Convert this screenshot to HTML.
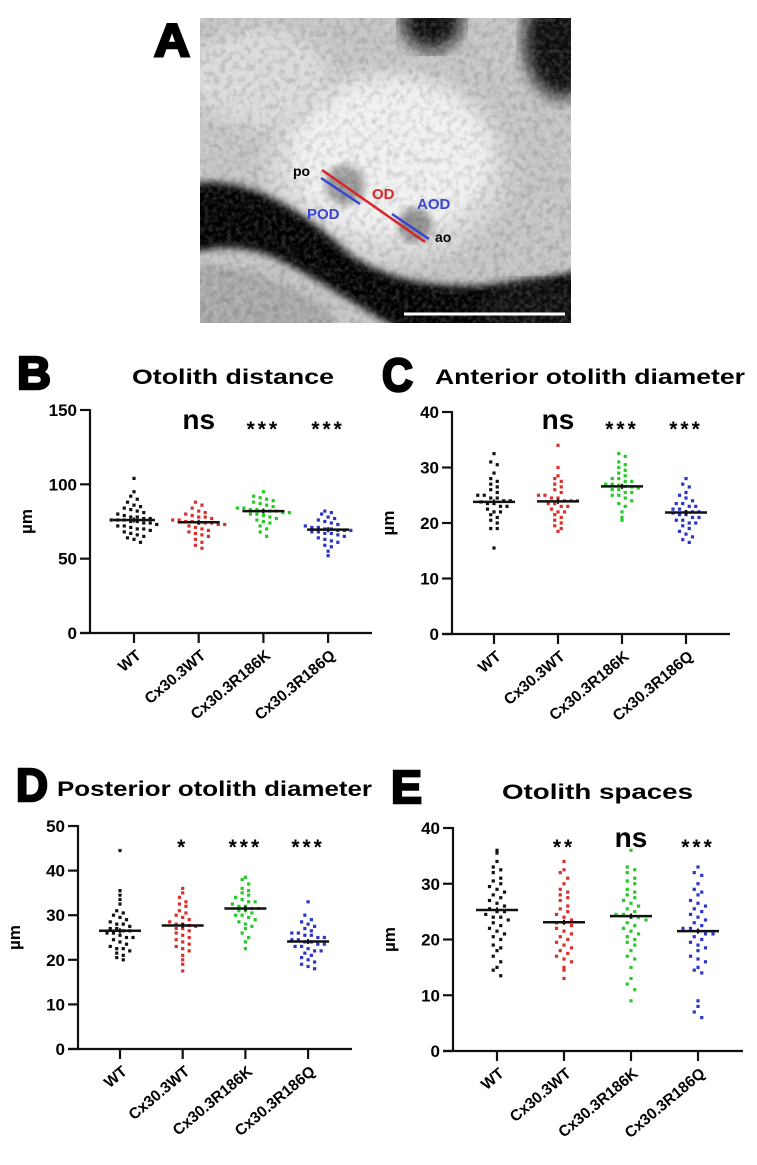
<!DOCTYPE html>
<html><head><meta charset="utf-8">
<style>
html,body{margin:0;padding:0;background:#fff;}
svg{display:block;font-family:"Liberation Sans",Arial,sans-serif;}
</style></head>
<body>
<svg id="fig" width="757" height="1165" viewBox="0 0 757 1165" xmlns="http://www.w3.org/2000/svg">
<defs>
<filter id="noise" x="0" y="0" width="100%" height="100%">
<feTurbulence type="fractalNoise" baseFrequency="0.22" numOctaves="3" seed="4"/>
<feColorMatrix type="matrix" values="0 0 0 0 1  0 0 0 0 1  0 0 0 0 1  1.2 0 0 0 -0.45"/>
</filter>
<filter id="noiseD" x="0" y="0" width="100%" height="100%">
<feTurbulence type="fractalNoise" baseFrequency="0.15" numOctaves="2" seed="9"/>
<feColorMatrix type="matrix" values="0 0 0 0 0  0 0 0 0 0  0 0 0 0 0  1.4 0 0 0 -0.6"/>
</filter>
<filter id="blur8"><feGaussianBlur stdDeviation="8"/></filter>
<filter id="blur4"><feGaussianBlur stdDeviation="4"/></filter>
<clipPath id="imgclip"><rect x="0" y="0" width="371" height="305"/></clipPath>
</defs>

<text x="154" y="56" font-size="46" font-weight="bold" stroke="#000" stroke-width="2.5" textLength="36" lengthAdjust="spacingAndGlyphs">A</text>
<g transform="translate(200,18)">
<g clip-path="url(#imgclip)">
<rect width="371" height="305" fill="#c4c4c4"/>
<ellipse cx="187" cy="150" rx="122" ry="98" fill="#d8d8d8" filter="url(#blur8)"/>
<ellipse cx="190" cy="140" rx="100" ry="78" fill="#f0f0f0" filter="url(#blur8)"/>
<ellipse cx="60" cy="60" rx="70" ry="50" fill="#dadada" filter="url(#blur8)"/>
<path d="M-10,166 C50,156 105,195 145,232 C185,266 265,282 381,252 L381,315 L205,315 C170,296 120,262 80,242 C50,228 20,226 -10,236 Z" fill="#050505" filter="url(#blur4)"/>
<path d="M-10,248 C40,243 90,264 130,292 L140,315 L-10,315 Z" fill="#a8a8a8" filter="url(#blur4)"/>
<ellipse cx="232" cy="4" rx="30" ry="28" fill="#0a0a0a" filter="url(#blur8)"/>
<ellipse cx="362" cy="22" rx="38" ry="58" fill="#0a0a0a" filter="url(#blur8)"/>
<ellipse cx="340" cy="292" rx="60" ry="28" fill="#101010" filter="url(#blur8)"/>
<circle cx="145" cy="167" r="20" fill="#858585" opacity="0.8" filter="url(#blur4)"/>
<circle cx="215" cy="207" r="17" fill="#777" opacity="0.8" filter="url(#blur4)"/>
<rect width="371" height="305" filter="url(#noise)" opacity="0.35"/>
<rect width="371" height="305" filter="url(#noiseD)" opacity="0.25"/>
</g>
<line x1="122" y1="152" x2="225" y2="224" stroke="#d8262a" stroke-width="2.5"/>
<line x1="121" y1="160" x2="160" y2="186" stroke="#3a45d0" stroke-width="2.5"/>
<line x1="192" y1="196" x2="229" y2="221" stroke="#3a45d0" stroke-width="2.5"/>
<text x="93" y="158" font-size="14" font-weight="bold" fill="#000">po</text>
<text x="235" y="224" font-size="14" font-weight="bold" fill="#000">ao</text>
<text x="172" y="181" font-size="15" font-weight="bold" fill="#d8262a">OD</text>
<text x="107" y="201" font-size="15" font-weight="bold" fill="#3a45d0">POD</text>
<text x="217" y="191" font-size="15" font-weight="bold" fill="#3a45d0">AOD</text>
<line x1="204" y1="296" x2="365" y2="296" stroke="#fff" stroke-width="3"/>
</g>

<g id="charts"></g>
</svg>

<script>
const categories = ["WT","Cx30.3WT","Cx30.3R186K","Cx30.3R186Q"];

const distWT = [104,95,92,90,88,86,85,84,83,82,81,80,79,78,78,77,77,76,76,76,75,75,74,74,73,72,72,71,70,70,69,68,67,66,65,64,63,61];
const dist3WT = [88,86,84,82,81,80,79,78,78,77,76,76,75,75,74,74,74,73,73,72,71,70,69,68,67,66,65,63,61,59,57];
const distK = [95,92,91,90,89,88,87,86,85,84,84,83,83,82,82,82,81,81,80,80,79,78,77,76,75,74,72,70,68,65];
const distQ = [82,81,80,78,77,76,75,74,73,72,71,71,70,70,69,69,69,68,68,67,67,66,65,64,63,62,61,59,58,55,52];
const distMeans = [76,74.5,82,69.5];
const distTicks = [0,50,100,150];
const distSig = ["","ns","***","***"];

const antWT = [32.5,31,30.5,29,28,27.5,27,26.5,26,25.5,25,25,24.5,24.5,24,24,23.8,23.5,23.5,23,23,22.5,22,22,21.5,21,20.5,20,19,19,15.5];
const ant3WT = [34,30,28.5,28,27.5,27,26.5,26,25.5,25,25,24.5,24.5,24,24,24,23.5,23.5,23,23,22.5,22,22,21.5,21,20.5,20,19.5,19,18.5];
const antK = [32.5,32,31,30.5,30,29.5,29,28.5,28,28,27.5,27.5,27,27,26.8,26.6,26.5,26.3,26,26,25.5,25.5,25,25,24.5,24,23.5,23,22,21,20.5];
const antQ = [28,27,26.5,25.5,25,24.5,24,23.5,23.5,23,23,22.5,22.5,22,22,22,21.8,21.5,21.5,21,21,20.5,20.5,20,20,19.5,19,18.5,18,17.5,17,16.5];
const antMeans = [23.8,23.9,26.6,21.9];
const antTicks = [0,10,20,30,40];
const antSig = ["","ns","***","***"];

const postWT = [44.5,35.5,34.5,33.5,32.5,31,30.5,30,29.5,29,28.5,28,28,27.5,27,27,26.5,26.5,26,26,25.5,25,25,24.5,24,23.5,23,22.5,22.5,22,21.5,21,20.5,20];
const post3WT = [36,35,34,33,32.5,32,31,30.5,30,29.5,29,28.5,28,28,27.7,27.5,27,27,26.5,26,25.5,25,24.5,24,23.5,23,22.5,22,21,20,19,17.5];
const postK = [38.5,38,37,36,35.5,35,34.5,34,33.5,33,33,32.5,32,32,31.5,31.5,31,31,30.5,30,30,29.5,29,28.5,28,27.5,27,26,25,24,22.5];
const postQ = [33,30,29,28.5,28,27.5,27,26.5,26,26,25.5,25.5,25,25,24.5,24.5,24,24,23.5,23.5,23,23,22.5,22,22,21.5,21,20.5,20,19.5,19,18.5,18];
const postMeans = [26.5,27.7,31.5,24.1];
const postTicks = [0,10,20,30,40,50];
const postSig = ["","*","***","***"];

const spaceWT = [36,35.5,34,33,32.5,32,31,30.5,30,29.5,29,28.5,28,27.5,27,26.5,26,25.5,25,25,24.5,24,24,23.5,23,22.5,22,21.5,21,20.5,20,19,18.5,18,17,16,15,14.5,13.5];
const space3WT = [34,32.5,32,31,30,29,28.5,28,27.5,27,26,25.5,25,24.5,24,23.5,23,23,22.5,22,21.5,21,20.5,20,19.5,19,18.5,18,17.5,17,16.5,16,15,14.5,13];
const spaceK = [36,33,32.5,32,31,30.5,30,29,28.5,28,27.5,27,26.5,26,25.5,25,24.5,24.5,24,24,23.5,23,22.5,22,21.5,21,20.5,20,19.5,19,18,17,16.5,15,13,12,11,9];
const spaceQ = [33,32,31.5,30,29,28.5,28,27,26.5,26,25.5,25,24.5,24,23.5,23,22.5,22,22,21.5,21,21,20.5,20,19.5,19,18.5,18,17,16.5,16,15,14.5,14,9,8,7,6];
const spaceMeans = [25.3,23.1,24.2,21.5];
const spaceTicks = [0,10,20,30,40];
const spaceSig = ["","**","ns","***"];

const colors = ["#111111","#d9302c","#27c927","#2b36c8"];
const NS = "http://www.w3.org/2000/svg";
const root = document.getElementById('charts');

function mk(tag, attrs, parent, text) {
  const e = document.createElementNS(NS, tag);
  for (const k in attrs) e.setAttribute(k, attrs[k]);
  if (text !== undefined) e.textContent = text;
  parent.appendChild(e);
  return e;
}

function drawPanel(p) {
  const g = mk('g', {}, root);
  
  
  const yScale = v => p.yBot - (v / p.max) * (p.yBot - p.yTop);
  const xScale = i => p.x1 + i * p.step;

  const letter = mk('text', {x: p.letterX, y: p.letterY, 'font-size': 46, 'font-weight': 'bold', stroke: '#000', 'stroke-width': 2.5, textLength: p.letterW, lengthAdjust: 'spacingAndGlyphs'}, g, p.letter);
  
  
  const title = mk('text', {x: p.titleX, y: p.titleY, 'font-size': 21, 'font-weight': 'bold', textLength: p.titleW, lengthAdjust: 'spacingAndGlyphs'}, g, p.title);
  
  

  const ya = mk('line', {x1: p.ax, y1: p.yTop - 1, x2: p.ax, y2: p.yBot, stroke: '#111', 'stroke-width': 2.2}, g);
  
  
  const xa = mk('line', {x1: p.ax - 10, y1: p.yBot, x2: p.xEnd, y2: p.yBot, stroke: '#111', 'stroke-width': 2.2}, g);
  
  

  p.ticks.forEach(t => {
    const y = yScale(t);
    const tl = mk('line', {x1: p.ax - 10, y1: y, x2: p.ax, y2: y, stroke: '#111', 'stroke-width': 2.2}, g);
    
    
    const tx = mk('text', {x: p.ax - 13, y: y + 6, 'font-size': 17, 'font-weight': 'bold', 'text-anchor': 'end'}, g, String(t));
    
    
  });

  const yl = mk('text', {x: 0, y: 0, 'font-size': 17, 'font-weight': 'bold', 'text-anchor': 'middle', transform: 'translate(' + (p.ax - 58) + ',' + ((p.yTop + p.yBot) / 2) + ') rotate(-90)'}, g, 'µm');
  
  

  categories.forEach((c, i) => {
    const x = xScale(i);
    const tk = mk('line', {x1: x, y1: p.yBot, x2: x, y2: p.yBot + 10, stroke: '#111', 'stroke-width': 2.2}, g);
    
    
    const lbl = mk('text', {x: 0, y: 0, 'font-size': 15.5, 'font-weight': 'bold', 'text-anchor': 'end', transform: 'translate(' + (x + 8) + ',' + (p.yBot + 24) + ') rotate(-40)'}, g, c);
    
    

    const vals = p.series[i];
    const bins = {};
    vals.forEach(v => {
      const y = yScale(v);
      const b = Math.round(y / p.binH);
      (bins[b] = bins[b] || []).push(y);
    });
    Object.keys(bins).forEach(b => {
      const arr = bins[b];
      const n = arr.length;
      arr.forEach((y, k) => {
        const off = (k - (n - 1) / 2) * p.dotSp;
        const dot = mk('rect', {x: x + off - 1.6, y: y - 1.6, width: 3.2, height: 3.2, fill: colors[i]}, g);
        
        
      });
    });
    const my = yScale(p.means[i]);
    const ml = mk('line', {x1: x - 21, y1: my, x2: x + 21, y2: my, stroke: '#111', 'stroke-width': 2.5}, g);
    
    
    const eb = mk('line', {x1: x, y1: my - 2.5, x2: x, y2: my + 2.5, stroke: '#111', 'stroke-width': 2}, g);
    
    

    const s = p.sig[i];
    if (s) {
      const isNs = s === 'ns';
      const st = mk('text', {x: x, y: isNs ? p.sigY + 2 : p.sigY + 9, 'font-size': isNs ? 28 : 21, 'font-weight': 'bold', 'text-anchor': 'middle', 'letter-spacing': isNs ? 0 : 3}, g, s);
      
      
    }
  });
}

const panels = [
  {id:'otolith-distance', letter:'B', letterX:17, letterY:389, letterW:34, title:'Otolith distance', titleX:132, titleY:384, titleW:202,
   ax:90, yTop:410, yBot:633, xEnd:372, x1:134, step:64.7, max:150, ticks:distTicks, series:[distWT,dist3WT,distK,distQ], means:distMeans, sig:distSig, sigY:427, binH:6, dotSp:6.5},
  {id:'anterior-diameter', letter:'C', letterX:382, letterY:391, letterW:31, title:'Anterior otolith diameter', titleX:435, titleY:384, titleW:310,
   ax:452, yTop:412, yBot:634, xEnd:730, x1:494, step:64, max:40, ticks:antTicks, series:[antWT,ant3WT,antK,antQ], means:antMeans, sig:antSig, sigY:427, binH:6, dotSp:6.5},
  {id:'posterior-diameter', letter:'D', letterX:16, letterY:801, letterW:32, title:'Posterior otolith diameter', titleX:57, titleY:796, titleW:315,
   ax:78, yTop:826, yBot:1049, xEnd:352, x1:120, step:62.7, max:50, ticks:postTicks, series:[postWT,post3WT,postK,postQ], means:postMeans, sig:postSig, sigY:845, binH:6, dotSp:6.5},
  {id:'otolith-spaces', letter:'E', letterX:391, letterY:803, letterW:31, title:'Otolith spaces', titleX:502, titleY:799, titleW:191,
   ax:453, yTop:828, yBot:1051, xEnd:743, x1:497, step:67, max:40, ticks:spaceTicks, series:[spaceWT,space3WT,spaceK,spaceQ], means:spaceMeans, sig:spaceSig, sigY:845, binH:7, dotSp:7.5}
];
panels.forEach(drawPanel);
</script>
</body></html>
